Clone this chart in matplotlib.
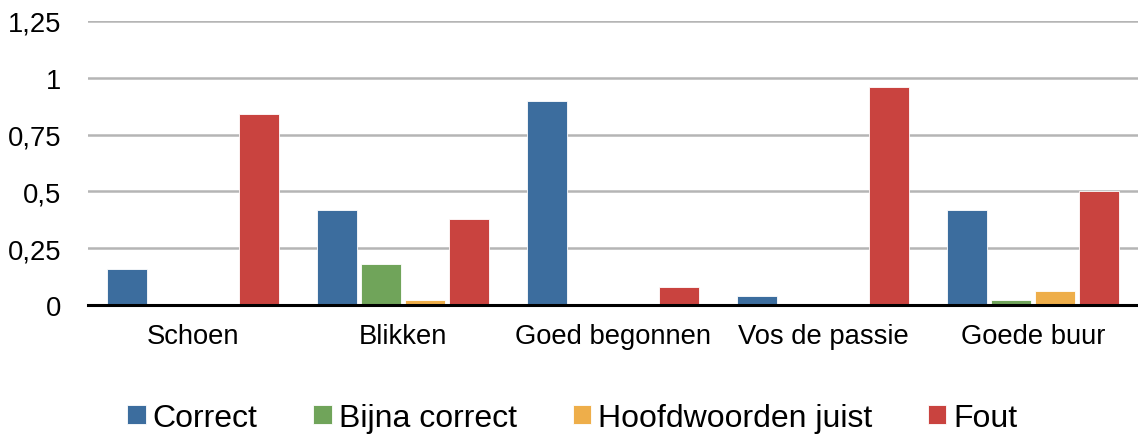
import numpy as np
import matplotlib.pyplot as plt
from matplotlib.ticker import FuncFormatter

plt.rcParams['font.family'] = ['Liberation Sans', 'DejaVu Sans']

# data
categories = ['Schoen', 'Blikken', 'Goed begonnen', 'Vos de passie', 'Goede buur']
correct = [0.16, 0.42, 0.90, 0.04, 0.42]
bijna_correct = [0.0, 0.18, 0.0, 0.0, 0.02]
hoofdwoorden = [0.0, 0.02, 0.0, 0.0, 0.06]
fout = [0.84, 0.38, 0.08, 0.96, 0.50]

series = [
    ('Correct', correct, '#3c6d9e'),
    ('Bijna correct', bijna_correct, '#70a45a'),
    ('Hoofdwoorden juist', hoofdwoorden, '#eeae4a'),
    ('Fout', fout, '#c9433f'),
]

fig = plt.figure(figsize=(11.38, 4.35), dpi=100)
ax = fig.add_axes([88/1138, 1 - 306/435, 1 - 88/1138, (306 - 22)/435])

x = np.arange(len(categories))
slot = 0.209
width = 0.19
for i, (naam, waarden, kleur) in enumerate(series):
    ax.bar(x + (i - 1.5) * slot, waarden, width, color=kleur, label=naam,
           edgecolor='#ffffff', linewidth=0.6, zorder=3)

ax.set_xlim(-0.5, len(categories) - 0.5)
ax.set_ylim(0, 1.25)
ax.set_yticks([0, 0.25, 0.5, 0.75, 1, 1.25])
ax.yaxis.set_major_formatter(FuncFormatter(lambda v, p: ('%g' % v).replace('.', ',')))
ax.set_xticks(x)
ax.set_xticklabels(categories)

ax.grid(axis='y', color='#b5b5b5', linewidth=1.8, zorder=0)
ax.set_axisbelow(True)
for s in ['top', 'right', 'left']:
    ax.spines[s].set_visible(False)
ax.spines['bottom'].set_linewidth(2.2)
ax.spines['bottom'].set_color('black')
ax.spines['bottom'].set_zorder(4)
ax.tick_params(axis='x', length=0, pad=13, labelsize=19.7)
ax.tick_params(axis='y', length=0, pad=19, labelsize=19.7)

fig.legend(loc='center', bbox_to_anchor=(0.503, 0.037), ncol=4, frameon=False,
           fontsize=23, handlelength=0.57, handleheight=0.5, handletextpad=0.22,
           columnspacing=1.75)

fig.savefig('out.png', dpi=100)
